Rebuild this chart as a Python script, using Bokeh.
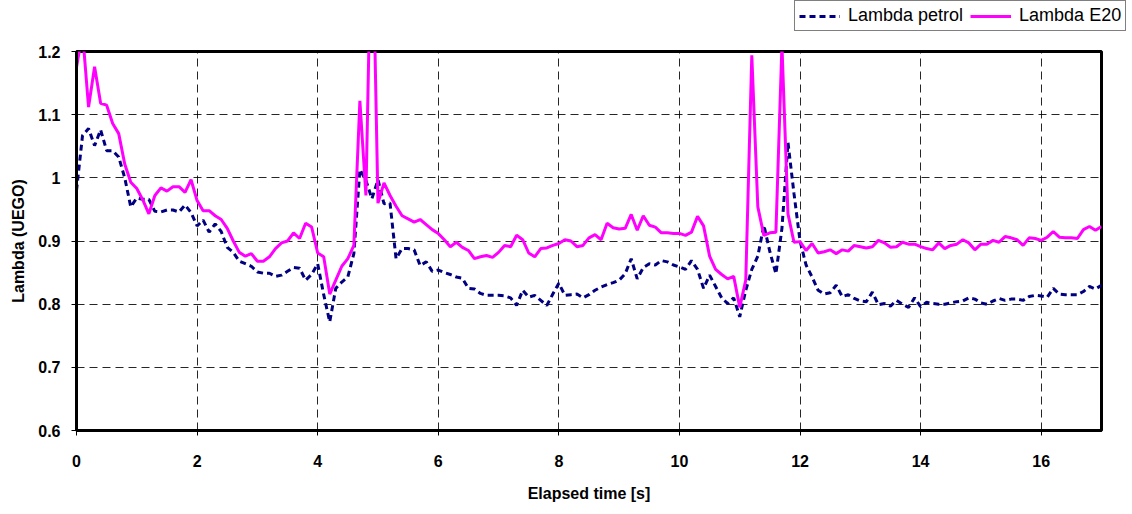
from bokeh.plotting import figure
from bokeh.layouts import column, row
from bokeh.models import Range1d, FixedTicker, Legend, LegendItem
from bokeh.embed import file_html
from bokeh.resources import INLINE

# ---- data ----
time_s = [round(i * 0.1, 1) for i in range(171)]

lambda_petrol = [
    0.980, 1.067, 1.078, 1.051, 1.076, 1.043, 1.043, 1.033, 1.000, 0.954,
    0.968, 0.966, 0.966, 0.947, 0.946, 0.949, 0.949, 0.946, 0.957, 0.945,
    0.924, 0.933, 0.914, 0.927, 0.915, 0.890, 0.882, 0.868, 0.864, 0.860,
    0.851, 0.849, 0.849, 0.844, 0.846, 0.852, 0.858, 0.857, 0.838, 0.847,
    0.864, 0.815, 0.772, 0.825, 0.835, 0.843, 0.880, 1.013, 0.996, 0.967,
    0.997, 0.959, 0.960, 0.872, 0.888, 0.888, 0.886, 0.861, 0.867, 0.852,
    0.854, 0.850, 0.847, 0.843, 0.841, 0.825, 0.824, 0.817, 0.814, 0.814,
    0.814, 0.813, 0.810, 0.798, 0.822, 0.811, 0.814, 0.806, 0.798, 0.816,
    0.833, 0.814, 0.815, 0.816, 0.810, 0.815, 0.822, 0.827, 0.831, 0.834,
    0.838, 0.848, 0.872, 0.840, 0.858, 0.864, 0.862, 0.869, 0.867, 0.862,
    0.859, 0.855, 0.869, 0.855, 0.825, 0.846, 0.828, 0.810, 0.801, 0.810,
    0.780, 0.822, 0.855, 0.876, 0.925, 0.883, 0.848, 0.920, 1.056, 0.975,
    0.900, 0.862, 0.843, 0.822, 0.816, 0.818, 0.830, 0.812, 0.815, 0.809,
    0.805, 0.804, 0.819, 0.799, 0.801, 0.797, 0.806, 0.800, 0.795, 0.810,
    0.796, 0.803, 0.801, 0.800, 0.800, 0.802, 0.804, 0.805, 0.810, 0.808,
    0.802, 0.800, 0.805, 0.809, 0.806, 0.808, 0.808, 0.806, 0.812, 0.814,
    0.813, 0.811, 0.825, 0.816, 0.815, 0.815, 0.815, 0.820, 0.828, 0.824,
    0.830,
]

lambda_e20 = [
    1.175, 1.230, 1.112, 1.176, 1.118, 1.115, 1.086, 1.070, 1.022, 0.993,
    0.983, 0.965, 0.943, 0.972, 0.984, 0.979, 0.986, 0.986, 0.977, 0.997,
    0.964, 0.948, 0.948, 0.940, 0.934, 0.920, 0.900, 0.882, 0.876, 0.880,
    0.868, 0.868, 0.875, 0.888, 0.897, 0.900, 0.913, 0.904, 0.928, 0.922,
    0.881, 0.875, 0.816, 0.838, 0.860, 0.872, 0.893, 1.122, 0.972, 1.450,
    0.960, 0.992, 0.972, 0.955, 0.940, 0.935, 0.930, 0.934, 0.926, 0.918,
    0.912, 0.902, 0.891, 0.898, 0.890, 0.885, 0.872, 0.875, 0.877, 0.874,
    0.882, 0.893, 0.891, 0.909, 0.902, 0.881, 0.875, 0.888, 0.889, 0.893,
    0.896, 0.902, 0.900, 0.891, 0.893, 0.905, 0.910, 0.902, 0.928, 0.921,
    0.919, 0.920, 0.942, 0.917, 0.940, 0.925, 0.922, 0.913, 0.913, 0.912,
    0.912, 0.909, 0.914, 0.939, 0.924, 0.876, 0.855, 0.847, 0.840, 0.844,
    0.795, 0.838, 1.194, 0.954, 0.909, 0.913, 0.914, 1.210, 0.943, 0.898,
    0.899, 0.885, 0.896, 0.881, 0.883, 0.886, 0.880, 0.886, 0.884, 0.893,
    0.891, 0.889, 0.891, 0.901, 0.897, 0.890, 0.891, 0.898, 0.895, 0.895,
    0.891, 0.888, 0.886, 0.897, 0.888, 0.893, 0.895, 0.902, 0.897, 0.886,
    0.895, 0.895, 0.901, 0.898, 0.907, 0.905, 0.902, 0.893, 0.905, 0.904,
    0.901, 0.906, 0.915, 0.906, 0.905, 0.905, 0.904, 0.918, 0.923, 0.917,
    0.923,
]

x_ticks = [0, 2, 4, 6, 8, 10, 12, 14, 16]
y_ticks = [0.6, 0.7, 0.8, 0.9, 1.0, 1.1, 1.2]
y_tick_labels = ["0.6", "0.7", "0.8", "0.9", "1", "1.1", "1.2"]
series_names = ["Lambda petrol", "Lambda E20"]
x_title = "Elapsed time [s]"
y_title = "Lambda (UEGO)"

FONT = "Liberation Sans"
PETROL_STYLE = dict(line_color="#000080", line_width=3, line_dash="6 4")
E20_STYLE = dict(line_color="#FF00FF", line_width=3)

W = 1130
LEG_H = 36

# ---- legend strip (above the chart); its lines lie outside its view ----
leg = figure(
    width=W, height=LEG_H, output_backend="svg", toolbar_location=None,
    x_range=Range1d(0, 17), y_range=Range1d(0, 0.5),
    x_axis_type=None, y_axis_type=None,
    min_border_left=0, min_border_right=0, min_border_top=0, min_border_bottom=0,
)
leg.outline_line_color = None
leg.xgrid.visible = False
leg.ygrid.visible = False
lr_petrol = leg.line(time_s, lambda_petrol, **PETROL_STYLE)
lr_e20 = leg.line(time_s, lambda_e20, **E20_STYLE)
legend = Legend(
    items=[LegendItem(label=series_names[0], renderers=[lr_petrol]),
           LegendItem(label=series_names[1], renderers=[lr_e20])],
    orientation="horizontal",
    location=(794, 5),
    border_line_color="black", border_line_width=1,
    background_fill_color="white", background_fill_alpha=1,
    label_text_font=FONT, label_text_font_size="18px",
    label_text_color="black",
    glyph_width=41, glyph_height=20, label_standoff=8, spacing=7,
    padding=4, margin=0,
)
leg.add_layout(legend, "center")

# ---- main chart ----
p = figure(
    width=W, height=512 - LEG_H,
    output_backend="svg", toolbar_location=None,
    x_range=Range1d(0, 17), y_range=Range1d(0.6, 1.2),
    min_border_left=76, min_border_right=29,
    min_border_top=51 - LEG_H, min_border_bottom=82,
)
p.background_fill_color = "white"
p.border_fill_color = "white"
p.outline_line_color = "black"
p.outline_line_width = 3

p.line(time_s, lambda_petrol, **PETROL_STYLE)
p.line(time_s, lambda_e20, **E20_STYLE)

p.xaxis.ticker = FixedTicker(ticks=x_ticks)
p.yaxis.ticker = FixedTicker(ticks=y_ticks)
p.yaxis.major_label_overrides = {t: l for t, l in zip(y_ticks, y_tick_labels)}
for ax in (p.xaxis[0], p.yaxis[0]):
    ax.axis_line_color = "black"
    ax.axis_line_width = 3
    ax.major_tick_line_color = "black"
    ax.major_tick_line_width = 1
    ax.major_tick_out = 5
    ax.major_tick_in = 0
    ax.minor_tick_line_color = None
    ax.major_label_text_font = FONT
    ax.major_label_text_font_style = "bold"
    ax.major_label_text_font_size = "16px"
    ax.major_label_text_color = "black"
    ax.axis_label_text_font = FONT
    ax.axis_label_text_font_style = "bold"
    ax.axis_label_text_font_size = "16px"
    ax.axis_label_text_color = "black"
p.xaxis.axis_label = x_title
p.yaxis.axis_label = y_title
p.xaxis.major_label_standoff = 19
p.xaxis.axis_label_standoff = 15
p.yaxis.major_label_standoff = 11
p.yaxis.axis_label_standoff = 8

for g in (p.xgrid[0], p.ygrid[0]):
    g.grid_line_color = "black"
    g.grid_line_alpha = 0.85
    g.grid_line_width = 1
    g.grid_line_dash = "8 5"
p.xgrid.ticker = FixedTicker(ticks=x_ticks)
p.ygrid.ticker = FixedTicker(ticks=y_ticks)

# keep the legend strip's frame independent from the chart's frame
for f in (leg, p):
    if "frame_align" in f.properties():
        f.frame_align = False

layout = column(row(leg), p, spacing=0)

open("out.html", "w").write(file_html(layout, INLINE))
